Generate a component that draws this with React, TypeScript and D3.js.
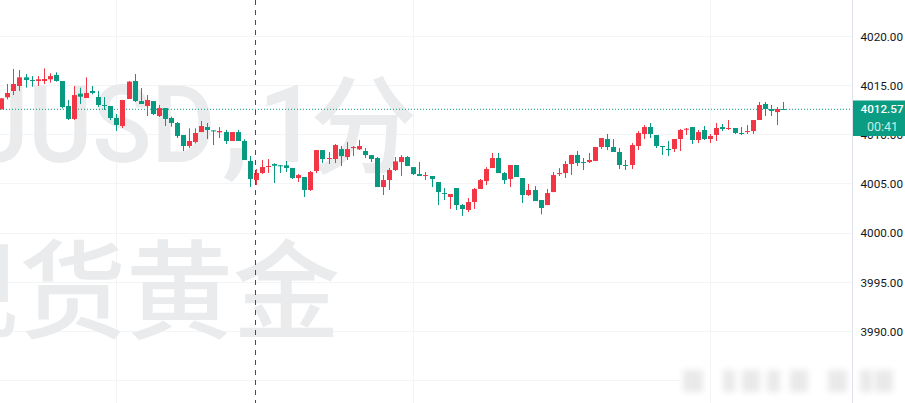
import React from "react";
import * as d3 from "d3";

const opens = [4012.57,4013.79,4014.43,4014.94,4015.82,4015.55,4015.45,4015.45,4015.62,4016.06,
4015.45,4012.91,4011.59,4014.16,4013.72,4014.43,4013.82,4013.01,4012.91,4011.69,
4010.87,4013.62,4015.45,4013.41,4012.91,4013.41,4011.89,4012.70,4011.69,4011.18,
4009.96,4008.84,4009.25,4010.26,4010.77,4010.43,4010.23,4010.26,4009.35,4010.26,
4009.35,4007.32,4005.39,4006.10,4006.71,4007.01,4006.88,4006.88,4006.61,4005.59,
4005.69,4004.37,4006.30,4008.43,4007.52,4007.52,4008.53,4007.72,4008.63,4008.50,
4008.33,4007.92,4007.62,4004.67,4005.38,4006.40,4007.21,4007.72,4006.70,4005.99,
4005.79,4005.79,4005.18,4004.06,4003.66,4004.57,4002.84,4002.34,4003.15,4004.47,
4005.28,4006.60,4007.62,4006.09,4005.49,4006.91,4005.59,4003.86,4004.37,4003.35,
4002.84,4004.16,4005.99,4006.09,4007.01,4007.93,4007.21,4007.21,4007.32,4008.74,
4009.55,4008.74,4008.23,4006.91,4006.91,4008.84,4010.06,4010.77,4009.96,4008.84,
4008.54,4008.54,4009.55,4010.50,4010.77,4009.45,4010.47,4009.55,4009.96,4010.77,
4010.57,4010.67,4010.16,4010.26,4010.36,4011.48,4013.11,4012.60,4012.29,4012.60];

const highs = [4013.69,4015.14,4016.67,4016.56,4016.16,4015.95,4015.95,4016.73,4016.23,4016.33,
4015.45,4013.52,4014.94,4014.77,4015.82,4014.94,4014.43,4013.82,4012.91,4012.09,
4013.52,4015.45,4016.16,4014.73,4014.02,4013.41,4013.01,4012.70,4011.82,4011.28,
4009.96,4010.64,4010.64,4011.38,4011.18,4010.43,4010.77,4010.47,4010.26,4010.47,
4009.52,4007.83,4006.50,4007.42,4007.52,4007.08,4006.91,4007.32,4006.61,4005.99,
4005.69,4006.30,4008.43,4008.43,4008.23,4009.04,4008.84,4009.24,4008.84,4009.45,
4008.63,4007.92,4007.72,4005.89,4006.60,4007.72,4007.92,4007.82,4006.70,4007.21,
4006.20,4005.79,4005.18,4004.57,4003.96,4004.57,4002.94,4003.55,4004.57,4005.49,
4006.70,4008.13,4008.13,4006.20,4006.91,4006.91,4005.59,4004.98,4004.77,4003.35,
4004.47,4006.20,4006.60,4007.31,4007.93,4008.33,4007.62,4008.13,4008.74,4009.65,
4010.06,4009.55,4008.64,4007.42,4009.14,4010.36,4010.97,4011.18,4009.96,4008.84,
4009.35,4009.55,4010.57,4010.67,4010.77,4010.47,4010.87,4010.06,4011.18,4011.08,
4011.48,4010.67,4010.77,4010.97,4011.48,4013.31,4013.31,4013.01,4012.80,4013.31];

const lows = [4012.57,4013.58,4014.02,4014.43,4014.77,4014.87,4014.94,4015.14,4015.28,4015.38,
4012.67,4011.48,4011.48,4013.11,4013.72,4014.09,4012.80,4012.50,4011.48,4010.37,
4010.67,4013.62,4013.31,4013.11,4011.89,4011.99,4011.79,4010.87,4010.81,4009.65,
4008.33,4008.64,4009.11,4010.26,4009.55,4008.94,4009.65,4009.05,4009.35,4009.35,
4007.42,4004.68,4004.88,4005.99,4006.10,4005.08,4006.10,4006.20,4005.49,4005.18,
4003.66,4004.27,4006.09,4007.11,4007.01,4007.11,4006.81,4007.42,4007.82,4008.43,
4007.62,4007.21,4004.67,4003.86,4004.37,4006.30,4005.79,4006.81,4005.89,4005.79,
4005.38,4004.67,4002.84,4003.35,4002.44,4002.34,4001.73,4002.13,4002.44,4004.47,
4004.88,4006.60,4006.09,4004.98,4004.67,4005.69,4003.05,4003.76,4003.25,4001.89,
4002.84,4004.16,4005.79,4005.59,4005.89,4006.81,4006.40,4007.11,4007.32,4008.54,
4008.43,4008.23,4006.50,4006.40,4006.50,4008.43,4009.55,4009.65,4008.64,4007.93,
4007.82,4008.23,4008.33,4009.96,4009.04,4009.14,4009.45,4009.14,4009.35,4010.36,
4010.47,4010.06,4009.96,4010.06,4010.06,4011.48,4011.89,4011.89,4010.97,4012.53];

const closes = [4013.69,4014.23,4015.14,4015.82,4015.55,4015.45,4015.62,4015.65,4015.95,4015.45,
4012.80,4011.59,4014.02,4013.85,4014.23,4014.23,4013.01,4012.94,4011.69,4010.98,
4013.52,4015.38,4013.41,4013.11,4013.52,4012.09,4012.70,4011.59,4011.18,4009.86,
4008.84,4009.35,4010.16,4010.87,4010.47,4010.37,4010.37,4009.35,4010.26,4009.35,
4007.42,4005.49,4006.10,4006.71,4006.81,4006.84,4006.81,4006.61,4005.59,4005.89,
4004.37,4006.20,4008.43,4007.52,4007.62,4008.94,4007.82,4008.53,4008.74,4008.84,
4007.92,4007.52,4004.67,4005.38,4006.40,4007.28,4007.72,4006.81,4005.99,4005.79,
4005.89,4005.49,4004.16,4003.96,4003.96,4002.84,4002.44,4003.15,4004.47,4005.38,
4006.50,4007.62,4006.09,4005.38,4006.91,4005.69,4003.86,4004.37,4003.25,4002.54,
4004.06,4005.89,4006.09,4007.01,4007.93,4007.11,4007.11,4007.42,4008.74,4009.65,
4008.74,4008.23,4006.91,4006.81,4008.94,4010.16,4010.77,4010.06,4008.84,4008.74,
4008.43,4009.55,4010.47,4010.60,4009.45,4010.26,4009.55,4009.86,4010.67,4010.57,
4010.67,4010.16,4010.06,4010.36,4011.48,4013.01,4012.60,4012.40,4012.60,4012.53];

const gridTicks = [4020, 4015, 4010, 4005, 4000, 3995, 3990];
const priceTicks = [4020, 4015, 4010, 4005, 4000, 3995, 3990];
const hiddenGridTick = 3985;
const lastPrice = 4012.57;
const lastPriceLabel = "4012.57";
const countdown = "00:41";
const crosshairIndex = 41.9;
const timeGridIndices = [19, 68, 117];

const W = 905, H = 403, AXIS_X = 852;
const RED = "#F23645", GREEN = "#089981", WM = "#eaebed";
const FONT = "Roboto, 'Noto Sans', sans-serif";
const CJK = "'Noto Sans CJK SC', sans-serif";
const blurBars: [number, number][] = [[683,20],[723,12],[742,18],[767,13],[790,18],[828,19],[860,12],[875,18]];

export default function App() {
  const x = d3.scaleLinear().domain([0, 129]).range([1.3, 783]);
  const y = d3.scaleLinear().domain([4000, 4020]).range([233, 36.2]);
  const px = (v: number) => Math.round(v - 0.5) + 0.5;
  const bodyW = 5;
  return (
    <svg width={W} height={H} style={{ position: "absolute", left: 0, top: 0, background: "#fff" }} fontFamily={FONT}>
      <defs>
        <filter id="soft" x="-40%" y="-40%" width="180%" height="180%">
          <feGaussianBlur stdDeviation="3.2" />
        </filter>
      </defs>
      {gridTicks.map((t) => (
        <line key={t} x1={0} x2={AXIS_X} y1={px(y(t))} y2={px(y(t))} stroke="#f3f4f6" />
      ))}
      <line x1={0} x2={680} y1={px(y(hiddenGridTick))} y2={px(y(hiddenGridTick))} stroke="#f3f4f6" />
      {timeGridIndices.map((t) => (
        <line key={t} x1={px(x(t))} x2={px(x(t))} y1={0} y2={H} stroke="#f3f4f6" />
      ))}
      <g fill={WM} fontSize={107} fontWeight={500}>
        <text x={-161.6} y={162} textLength={377} lengthAdjust="spacingAndGlyphs">XAUUSD</text>
        <text x={222} y={162} fontSize={125}>,</text>
        <text x={258} y={162}>1</text>
        <text x={310} y={165} fontFamily={CJK}>分</text>
        <text x={-88} y={330} fontFamily={CJK}>现货黄金</text>
      </g>
      <line x1={0} x2={AXIS_X} y1={y(lastPrice)} y2={y(lastPrice)} stroke={GREEN} strokeDasharray="1 2" />
      {opens.map((o, i) => {
        const c = closes[i];
        const col = c >= o ? RED : GREEN;
        const cx = Math.round(x(i));
        const top = y(Math.max(o, c));
        const bot = y(Math.min(o, c));
        return (
          <g key={i}>
            <line x1={cx + 0.5} x2={cx + 0.5} y1={y(highs[i])} y2={y(lows[i])} stroke={col} />
            <rect x={cx + 0.5 - bodyW / 2} y={top} width={bodyW} height={Math.max(bot - top, 1)} fill={col} />
          </g>
        );
      })}
      <line x1={px(x(crosshairIndex))} x2={px(x(crosshairIndex))} y1={0} y2={H} stroke="#4a4a50" strokeDasharray="5 5" />
      <line x1={AXIS_X + 0.5} x2={AXIS_X + 0.5} y1={0} y2={H} stroke="#e0e3eb" />
      {priceTicks.map((t) => (
        <text key={t} x={860.5} y={y(t) + 4.3} fontSize={11.7} fill="#131722">{t.toFixed(2)}</text>
      ))}
      <rect x={AXIS_X + 1} y={100.5} width={W - AXIS_X - 1} height={35.5} fill="#0b9c84" />
      <text x={860.5} y={112.8} fontSize={11.7} fontWeight={500} fill="#fff">{lastPriceLabel}</text>
      <text x={867} y={131.3} fontSize={12.5} fill="#c9ece5">{countdown}</text>
      <g filter="url(#soft)" fill="#e9e9e9">
        {blurBars.map(([bx, bw]) => (
          <rect key={bx} x={bx} y={370} width={bw} height={22} />
        ))}
      </g>
    </svg>
  );
}
